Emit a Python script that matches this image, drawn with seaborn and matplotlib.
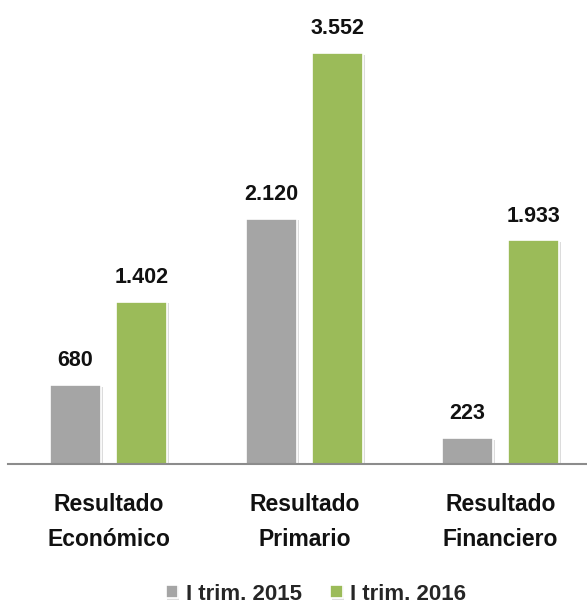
import matplotlib
matplotlib.use("Agg")
import matplotlib.pyplot as plt
import matplotlib.patheffects as pe
import seaborn as sns
import pandas as pd

# data
categories = ["Resultado\nEconómico", "Resultado\nPrimario", "Resultado\nFinanciero"]
periods = ["I trim. 2015", "I trim. 2016"]
values_2015 = [680, 2120, 223]
values_2016 = [1402, 3552, 1933]
colors = ["#a5a5a5", "#9bbb59"]

df = pd.DataFrame({
    "cat": categories * 2,
    "periodo": [periods[0]] * 3 + [periods[1]] * 3,
    "valor": values_2015 + values_2016,
})

sns.set_style("white")
plt.rcParams["font.family"] = ["Liberation Sans", "DejaVu Sans"]

fig = plt.figure(figsize=(5.87, 6.03), dpi=100)
ax = fig.add_axes([0.0136, 0.2305, 0.9864, 0.7195])

sns.barplot(data=df, x="cat", y="valor", hue="periodo", palette=colors, saturation=1,
            width=0.673, gap=0.22, ax=ax, edgecolor="white", linewidth=1.2)

# light shadow round the bars
for p in ax.patches:
    p.set_path_effects([pe.SimplePatchShadow(offset=(1, -1), shadow_rgbFace="#bbbbbb", alpha=0.5),
                        pe.Normal()])

def fmt(v):
    return f"{int(round(v)):,}".replace(",", ".")

for cont in ax.containers:
    ax.bar_label(cont, labels=[fmt(b.get_height()) for b in cont],
                 padding=10, fontsize=15.5, fontweight="bold", color="#111111")

ax.set_xlim(-0.513, 2.441)
ax.set_ylim(0, 3751)
ax.set_xlabel("")
ax.set_ylabel("")
ax.set_yticks([])
ax.tick_params(axis="x", length=0, pad=21)
for lab in ax.get_xticklabels():
    lab.set_fontsize(16.5)
    lab.set_fontweight("bold")
    lab.set_color("#111111")
    lab.set_linespacing(1.65)

for s in ["top", "left", "right"]:
    ax.spines[s].set_visible(False)
ax.spines["bottom"].set_color("#8c8c8c")
ax.spines["bottom"].set_linewidth(1.5)

ax.legend(loc="center", bbox_to_anchor=(316 / 587, 1 - 594 / 603), bbox_transform=fig.transFigure,
          ncol=2, frameon=False, handlelength=0.55, handleheight=0.55, handletextpad=0.35,
          columnspacing=1.3, prop={"weight": "bold", "size": 16})

fig.savefig("out.png", dpi=100)
